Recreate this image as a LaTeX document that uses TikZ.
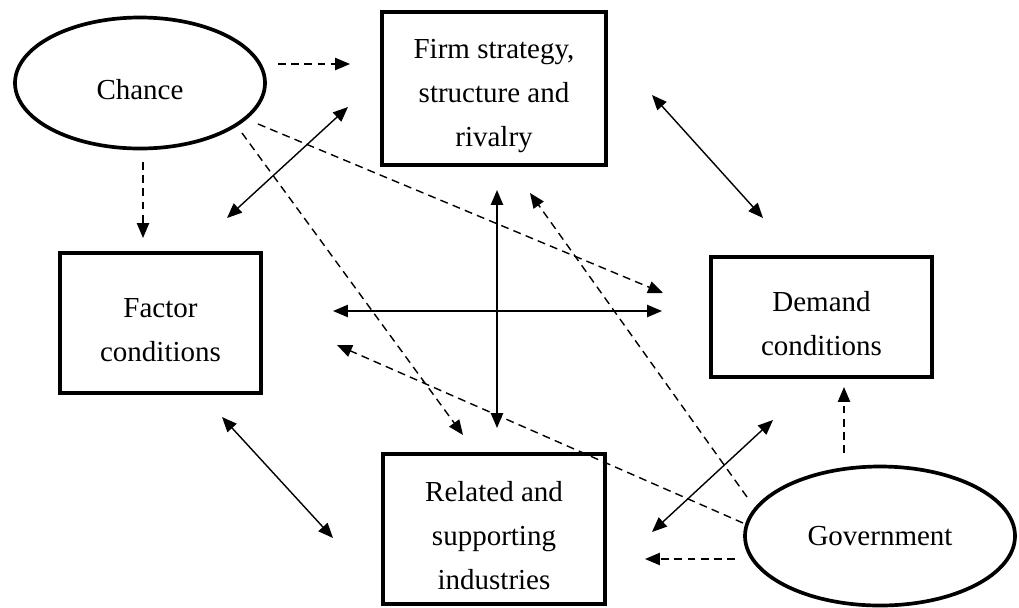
\documentclass[tikz,border=0pt]{standalone}
\usepackage{fontspec}
\setmainfont{Liberation Serif}
\usepackage{tikz}
\usetikzlibrary{positioning,calc,arrows.meta,shapes.geometric}

\begin{document}
\begin{tikzpicture}[factorbox/.style={draw=black, line width=2.4pt, fill=white, align=center, inner sep=0pt, font=\fontsize{16.5}{25}\selectfont}, oval/.style={ellipse, draw=black, line width=2.1pt, fill=white, inner sep=0pt, font=\fontsize{16.5}{25}\selectfont}, arrow/.style={{Triangle[length=8.5pt,width=7pt]}-{Triangle[length=8.5pt,width=7pt]}, draw=black, line width=0.8pt}, dasharrow/.style={-{Triangle[length=8.5pt,width=7pt]}, draw=black, line width=0.8pt, dash pattern=on 4.5pt off 3pt}]
\useasboundingbox (0,0) rectangle (20.38,-12.14);
\node[oval, minimum width=5.0cm, minimum height=2.62cm, text height=19pt] (chance) at (2.80,-1.66) {Chance};
\node[factorbox, minimum width=4.48cm, minimum height=3.06cm, text height=69pt] (firm) at (9.88,-1.77) {Firm strategy,\\structure and\\rivalry};
\node[factorbox, minimum width=4.02cm, minimum height=2.80cm, text height=44pt] (factor) at (3.21,-6.46) {Factor\\conditions};
\node[factorbox, minimum width=4.42cm, minimum height=2.40cm, text height=44pt] (demand) at (16.43,-6.34) {Demand\\conditions};
\node[factorbox, minimum width=4.44cm, minimum height=3.00cm, text height=69pt] (related) at (9.88,-10.58) {Related and\\supporting\\industries};
\node[oval, minimum width=5.40cm, minimum height=2.78cm] (govt) at (17.60,-10.72) {Government};
% arrow ends
\coordinate (chance-firm) at (5.56,-1.28);   \coordinate (firm-in) at (7.00,-1.28);
\coordinate (chance-factor) at (2.86,-3.24); \coordinate (factor-in) at (2.86,-4.76);
\coordinate (chance-demand) at (5.16,-2.48); \coordinate (demand-in) at (13.26,-5.86);
\coordinate (chance-rel) at (4.84,-2.66);    \coordinate (rel-in) at (9.26,-8.70);
\coordinate (ff-a) at (6.96,-2.14);  \coordinate (ff-b) at (4.54,-4.36);
\coordinate (fd-a) at (13.04,-1.90); \coordinate (fd-b) at (15.26,-4.36);
\coordinate (fr-a) at (9.94,-3.80);  \coordinate (fr-b) at (9.94,-8.56);
\coordinate (xd-a) at (6.66,-6.22);  \coordinate (xd-b) at (13.24,-6.22);
\coordinate (xr-a) at (4.44,-8.34);  \coordinate (xr-b) at (6.66,-10.76);
\coordinate (rd-a) at (13.04,-10.64); \coordinate (rd-b) at (15.46,-8.40);
\coordinate (govt-firm) at (14.94,-9.94);   \coordinate (firm-g) at (10.60,-3.86);
\coordinate (govt-factor) at (14.86,-10.46); \coordinate (factor-g) at (6.74,-6.90);
\coordinate (govt-rel) at (14.70,-11.18);   \coordinate (rel-g) at (12.90,-11.18);
\coordinate (govt-demand) at (16.88,-9.06); \coordinate (demand-g) at (16.88,-7.74);
% chance
\draw[dasharrow] (chance-firm) -- (firm-in);
\draw[dasharrow] (chance-factor) -- (factor-in);
\draw[dasharrow] (chance-demand) -- (demand-in);
\draw[dasharrow] (chance-rel) -- (rel-in);
% diamond
\draw[arrow] (ff-a) -- (ff-b);
\draw[arrow] (fd-a) -- (fd-b);
\draw[arrow] (fr-a) -- (fr-b);
\draw[arrow] (xd-a) -- (xd-b);
\draw[arrow] (xr-a) -- (xr-b);
\draw[arrow] (rd-a) -- (rd-b);
% government
\draw[dasharrow] (govt-firm) -- (firm-g);
\draw[dasharrow] (govt-factor) -- (factor-g);
\draw[dasharrow] (govt-rel) -- (rel-g);
\draw[dasharrow] (govt-demand) -- (demand-g);
\end{tikzpicture}
\end{document}
